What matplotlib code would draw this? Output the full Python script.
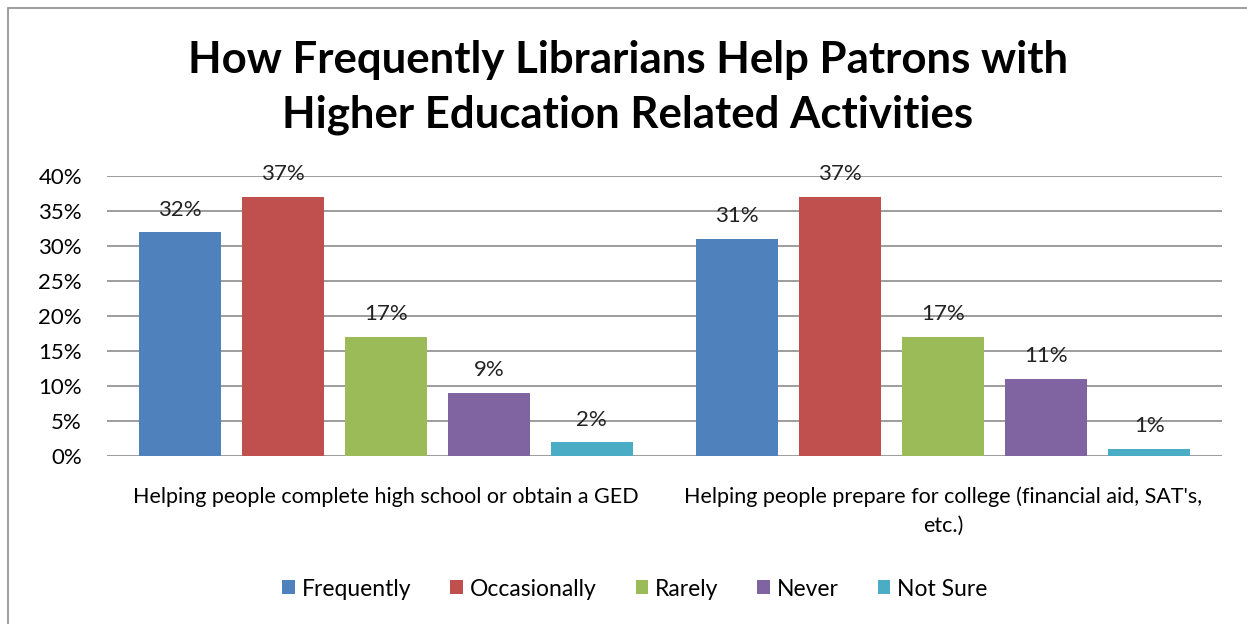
import matplotlib
matplotlib.use("Agg")
from matplotlib import pyplot as plt
from matplotlib.patches import Rectangle
import numpy as np

plt.rcParams['font.family'] = ['Lato', 'DejaVu Sans']

categories = ["Helping people complete high school or obtain a GED",
              "Helping people prepare for college (financial aid, SAT's,\netc.)"]
series = ["Frequently", "Occasionally", "Rarely", "Never", "Not Sure"]
values = [
    [32, 31],
    [37, 37],
    [17, 17],
    [9, 11],
    [2, 1],
]
colors = ["#4F81BD", "#C0504D", "#9BBB59", "#8064A2", "#4BACC6"]
y_ticks = [0, 5, 10, 15, 20, 25, 30, 35, 40]

fig = plt.figure(figsize=(12.47, 6.24), dpi=100)
ax = fig.add_axes([107 / 1247, 1 - 456 / 624, 1115 / 1247, 280 / 624])

# outer chart frame
fig.patches.append(Rectangle((8 / 1247, -0.05), 1.2, 1 - 8 / 624 + 0.05,
                             transform=fig.transFigure, fill=False,
                             edgecolor="#8c8c8c", linewidth=1.2))

x = np.arange(len(categories))
step = 0.1848
width = 0.147
for i, (name, vals, c) in enumerate(zip(series, values, colors)):
    pos = x + (i - 2) * step
    bars = ax.bar(pos, vals, width, color=c, label=name, zorder=3)
    for b, v in zip(bars, vals):
        ax.annotate(f"{v}%", (b.get_x() + b.get_width() / 2, v),
                    xytext=(0, 9), textcoords="offset points",
                    ha="center", va="bottom", fontsize=16, color="#222222")

ax.set_xlim(-0.5, 1.5)
ax.set_ylim(0, 40)
ax.set_yticks(y_ticks)
ax.set_yticklabels([f"{t}%" for t in y_ticks], fontsize=16)
ax.yaxis.grid(True, color="#8c8c8c", linewidth=1.2, zorder=0)
ax.tick_params(axis="y", length=0, pad=18)
ax.tick_params(axis="x", length=0, pad=22)
ax.set_xticks(x)
ax.set_xticklabels(categories, fontsize=15.5, linespacing=1.55)
for s in ax.spines.values():
    s.set_visible(False)

fig.suptitle("How Frequently Librarians Help Patrons with\nHigher Education Related Activities",
             x=628 / 1247, y=1 - 40 / 624, fontsize=31.5, fontweight="bold",
             linespacing=1.45, va="top")

fig.legend(loc="center", bbox_to_anchor=(635 / 1247, 1 - 589 / 624), ncol=5,
           frameon=False, fontsize=16.5, handlelength=0.55, handleheight=0.55,
           handletextpad=0.3, columnspacing=1.7)

fig.savefig("out.png", dpi=100)
